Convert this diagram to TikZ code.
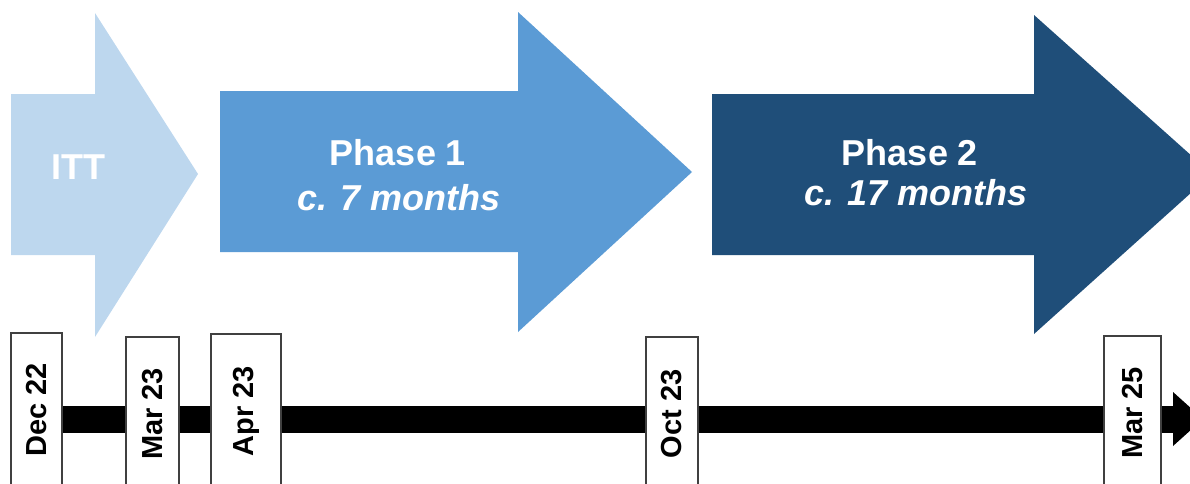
\documentclass[tikz,border=0pt]{standalone}
\usepackage{fontspec}
\setmainfont{Liberation Sans}
\usetikzlibrary{calc}

\definecolor{ittblue}{HTML}{BDD7EE}
\definecolor{phaseone}{HTML}{5B9BD5}
\definecolor{phasetwo}{HTML}{1F4E79}

\begin{document}
\begin{tikzpicture}[x = 1pt, y = -1pt,
phase/.style = {text = white, inner sep = 0pt, anchor = base, font = \fontsize{36}{40}\selectfont\bfseries},
months/.style = {phase, font = \fontsize{36}{40}\selectfont\bfseries\itshape},
datebox/.style = {draw = black!75, line width = 1.2pt, fill = white, rotate = 90, inner sep = 0pt, minimum width = 154pt, font = \fontsize{29}{33}\selectfont\bfseries}
]
\useasboundingbox (0,0) rectangle (1190,483);
\clip (0,0) rectangle (1190,483);

% flechas de las fases (la ultima se sale del cuadro)
\fill[ittblue] (11,94) -- (95,94) -- (95,13) -- (198,174) -- (95,337) -- (95,255) -- (11,255) -- cycle;
\fill[phaseone] (220,91) -- (518,91) -- (518,12) -- (692,172) -- (518,332) -- (518,252) -- (220,252) -- cycle;
\fill[phasetwo] (712,94) -- (1034,94) -- (1034,15) -- (1212,174) -- (1034,334) -- (1034,255) -- (712,255) -- cycle;

\node[phase] (itt) at (78,179) {ITT};
\node[phase] (p1) at (398,165) {Phase 1};
\node[months] (p1m) at (399,210) {c. 7 months};
\node[phase] (p2) at (910,165) {Phase 2};
\node[months] (p2m) at (916,205) {c. 17 months};

% linea de tiempo
\coordinate (tlstart) at (36.5,419);
\coordinate (tlend) at (1173,419);
\draw[line width = 27pt] (tlstart) -- (tlend);
\fill (tlend) ++(0,-27) -- ++(30,27) -- ++(-30,27) -- cycle;

% fechas, las cajas siguen por debajo del borde
\foreach \n/\x/\top/\w/\d in {dec/36.5/333/51/Dec 22, mar/152.5/337/53/Mar 23, apr/246/334/70/Apr 23,
	oct/672/337/52/Oct 23, marb/1132.5/336/57/Mar 25}{
	\node[datebox, minimum height = \w pt] (\n) at (\x,\top+77) {\d};
}
\end{tikzpicture}
\end{document}
